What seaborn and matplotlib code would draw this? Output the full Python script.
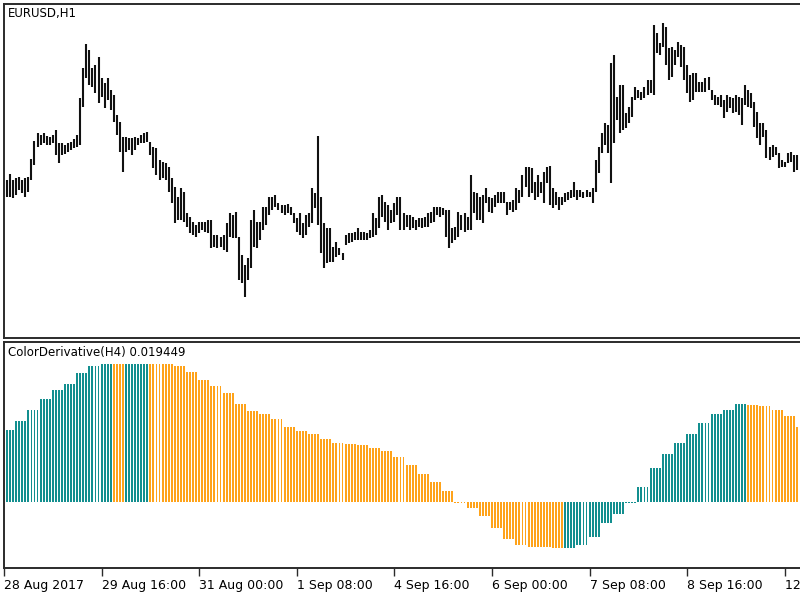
import numpy as np
import pandas as pd
import matplotlib
matplotlib.use('Agg')
import matplotlib.pyplot as plt
import seaborn as sns

# EURUSD H1 bars (high / low)
high = [1.1937, 1.1943, 1.1937, 1.1939, 1.1940, 1.1937, 1.1939, 1.1940, 1.1958, 1.1976,
        1.1984, 1.1982, 1.1984, 1.1981, 1.1980, 1.1982, 1.1987, 1.1974, 1.1974, 1.1972,
        1.1974, 1.1975, 1.1978, 1.1982, 1.2019, 1.2049, 1.2073, 1.2067, 1.2049, 1.2052,
        1.2060, 1.2039, 1.2034, 1.2039, 1.2027, 1.2022, 1.2002, 1.1995, 1.1980, 1.1980,
        1.1979, 1.1979, 1.1980, 1.1979, 1.1982, 1.1984, 1.1985, 1.1975, 1.1970, 1.1969,
        1.1957, 1.1955, 1.1954, 1.1950, 1.1939, 1.1930, 1.1920, 1.1929, 1.1925, 1.1904,
        1.1900, 1.1895, 1.1892, 1.1895, 1.1895, 1.1895, 1.1897, 1.1897, 1.1882, 1.1882,
        1.1880, 1.1882, 1.1894, 1.1904, 1.1902, 1.1905, 1.1880, 1.1862, 1.1852, 1.1859,
        1.1897, 1.1907, 1.1895, 1.1895, 1.1910, 1.1910, 1.1920, 1.1920, 1.1922, 1.1914,
        1.1912, 1.1912, 1.1913, 1.1910, 1.1904, 1.1899, 1.1904, 1.1894, 1.1902, 1.1904,
        1.1929, 1.1924, 1.1981, 1.1920, 1.1894, 1.1889, 1.1889, 1.1870, 1.1875, 1.1869,
        1.1864, 1.1882, 1.1884, 1.1884, 1.1885, 1.1889, 1.1885, 1.1885, 1.1884, 1.1887,
        1.1904, 1.1899, 1.1920, 1.1922, 1.1915, 1.1912, 1.1907, 1.1914, 1.1920, 1.1920,
        1.1904, 1.1902, 1.1902, 1.1900, 1.1897, 1.1899, 1.1899, 1.1900, 1.1904, 1.1905,
        1.1910, 1.1910, 1.1910, 1.1909, 1.1907, 1.1907, 1.1889, 1.1890, 1.1905, 1.1902,
        1.1904, 1.1900, 1.1942, 1.1925, 1.1924, 1.1920, 1.1922, 1.1929, 1.1920, 1.1919,
        1.1922, 1.1925, 1.1925, 1.1925, 1.1915, 1.1915, 1.1917, 1.1929, 1.1927, 1.1942,
        1.1950, 1.1950, 1.1949, 1.1935, 1.1942, 1.1935, 1.1945, 1.1950, 1.1951, 1.1929,
        1.1925, 1.1920, 1.1920, 1.1924, 1.1925, 1.1927, 1.1935, 1.1927, 1.1927, 1.1925,
        1.1927, 1.1925, 1.1929, 1.1957, 1.1970, 1.1984, 1.1994, 1.1992, 1.2054, 1.2062,
        1.2020, 1.2032, 1.2032, 1.2004, 1.2010, 1.2020, 1.2030, 1.2027, 1.2025, 1.2030,
        1.2037, 1.2037, 1.2092, 1.2084, 1.2074, 1.2094, 1.2090, 1.2069, 1.2070, 1.2067,
        1.2075, 1.2072, 1.2070, 1.2052, 1.2042, 1.2044, 1.2044, 1.2035, 1.2035, 1.2039,
        1.2040, 1.2027, 1.2022, 1.2020, 1.2022, 1.2017, 1.2022, 1.2020, 1.2019, 1.2022,
        1.2020, 1.2019, 1.2032, 1.2027, 1.2024, 1.2015, 1.2005, 1.1994, 1.1994, 1.1987,
        1.1970, 1.1972, 1.1970, 1.1964, 1.1957, 1.1955, 1.1964, 1.1965, 1.1962, 1.1962]

low = [1.1920, 1.1920, 1.1919, 1.1922, 1.1927, 1.1924, 1.1920, 1.1925, 1.1937, 1.1952,
       1.1970, 1.1972, 1.1974, 1.1972, 1.1972, 1.1974, 1.1962, 1.1954, 1.1962, 1.1963,
       1.1965, 1.1967, 1.1969, 1.1970, 1.1972, 1.2010, 1.2039, 1.2032, 1.2030, 1.2024,
       1.2014, 1.2020, 1.2009, 1.2017, 1.2007, 1.1995, 1.1982, 1.1965, 1.1945, 1.1965,
       1.1967, 1.1962, 1.1967, 1.1972, 1.1974, 1.1974, 1.1975, 1.1962, 1.1949, 1.1942,
       1.1937, 1.1939, 1.1937, 1.1925, 1.1914, 1.1894, 1.1897, 1.1897, 1.1895, 1.1890,
       1.1884, 1.1882, 1.1880, 1.1884, 1.1887, 1.1885, 1.1884, 1.1869, 1.1870, 1.1869,
       1.1870, 1.1867, 1.1865, 1.1880, 1.1879, 1.1879, 1.1837, 1.1834, 1.1820, 1.1837,
       1.1849, 1.1870, 1.1869, 1.1877, 1.1887, 1.1892, 1.1902, 1.1907, 1.1910, 1.1907,
       1.1904, 1.1902, 1.1904, 1.1902, 1.1894, 1.1885, 1.1882, 1.1879, 1.1882, 1.1890,
       1.1894, 1.1909, 1.1892, 1.1864, 1.1849, 1.1854, 1.1855, 1.1855, 1.1860, 1.1862,
       1.1857, 1.1872, 1.1874, 1.1875, 1.1877, 1.1877, 1.1877, 1.1877, 1.1877, 1.1879,
       1.1880, 1.1882, 1.1889, 1.1900, 1.1895, 1.1887, 1.1894, 1.1895, 1.1902, 1.1887,
       1.1887, 1.1890, 1.1887, 1.1889, 1.1887, 1.1890, 1.1889, 1.1890, 1.1890, 1.1894,
       1.1895, 1.1902, 1.1900, 1.1902, 1.1880, 1.1869, 1.1874, 1.1877, 1.1880, 1.1887,
       1.1885, 1.1887, 1.1887, 1.1904, 1.1897, 1.1897, 1.1894, 1.1914, 1.1905, 1.1904,
       1.1910, 1.1914, 1.1914, 1.1914, 1.1902, 1.1907, 1.1905, 1.1907, 1.1914, 1.1920,
       1.1930, 1.1920, 1.1924, 1.1917, 1.1920, 1.1924, 1.1914, 1.1934, 1.1912, 1.1909,
       1.1912, 1.1907, 1.1912, 1.1915, 1.1917, 1.1919, 1.1920, 1.1917, 1.1920, 1.1919,
       1.1920, 1.1920, 1.1914, 1.1925, 1.1944, 1.1964, 1.1972, 1.1964, 1.1934, 1.1974,
       1.1997, 1.1984, 1.1987, 1.1989, 1.1994, 1.2000, 1.2017, 1.2019, 1.2017, 1.2019,
       1.2022, 1.2024, 1.2022, 1.2064, 1.2062, 1.2070, 1.2052, 1.2037, 1.2040, 1.2052,
       1.2060, 1.2050, 1.2037, 1.2024, 1.2015, 1.2017, 1.2025, 1.2025, 1.2025, 1.2025,
       1.2027, 1.2017, 1.2012, 1.2012, 1.2010, 1.1999, 1.2005, 1.2009, 1.2004, 1.2005,
       1.2002, 1.1992, 1.2012, 1.2010, 1.2009, 1.1990, 1.1979, 1.1972, 1.1980, 1.1959,
       1.1957, 1.1960, 1.1962, 1.1949, 1.1950, 1.1950, 1.1954, 1.1955, 1.1945, 1.1947]

# ColorDerivative on H4: one value per H4 bar, 0 = rising (teal), 1 = falling (orange)
deriv = [0.01864, 0.02106, 0.02384, 0.02670, 0.02904, 0.03060, 0.03346, 0.03528, 0.03580, 0.03572,
         0.03578, 0.03585, 0.03582, 0.03575, 0.03528, 0.03372, 0.03164, 0.03008, 0.02826, 0.02540,
         0.02358, 0.02280, 0.02142, 0.01950, 0.01838, 0.01752, 0.01630, 0.01518, 0.01512, 0.01474,
         0.01388, 0.01318, 0.01154, 0.00954, 0.00720, 0.00520, 0.00286, -0.00030, -0.00172, -0.00372,
         -0.00692, -0.00970, -0.01126, -0.01170, -0.01180, -0.01212, -0.01205, -0.01126, -0.00926, -0.00562,
         -0.00320, -0.00042, 0.00374, 0.00884, 0.01240, 0.01518, 0.01752, 0.02038, 0.02280, 0.02384,
         0.02540, 0.02506, 0.02500, 0.02384, 0.02228, 0.019449]
deriv_color = [0, 0, 0, 0, 0, 0, 0, 0, 0, 1,
               0, 0, 1, 1, 1, 1, 1, 1, 1, 1,
               1, 1, 1, 1, 1, 1, 1, 1, 1, 1,
               1, 1, 1, 1, 1, 1, 1, 1, 1, 1,
               1, 1, 1, 1, 1, 1, 0, 0, 0, 0,
               0, 0, 0, 0, 0, 0, 0, 0, 0, 0,
               0, 1, 1, 1, 1, 1]

tick_pos = [-1, 31, 63, 95, 127, 159, 191, 223, 255]
tick_labels = ['28 Aug 2017', '29 Aug 16:00', '31 Aug 00:00', '1 Sep 08:00', '4 Sep 16:00',
               '6 Sep 00:00', '7 Sep 08:00', '8 Sep 16:00', '12 Sep 00:00']

sns.set_style('white')
plt.rcParams['font.family'] = ['DejaVu Sans']
plt.rcParams['text.color'] = 'black'
plt.rcParams['xtick.color'] = 'black'

n = len(high)
idx = np.arange(n)
blk = (idx + 1) // 4          # H1 bar -> H4 bar it belongs to
df = pd.DataFrame({'bar': idx,
                   'val': np.array(deriv)[blk],
                   'dir': np.where(np.array(deriv_color)[blk] == 0, 'up', 'down')})

fig = plt.figure(figsize=(8, 6), dpi=100)
ax1 = fig.add_axes([4/800, 1-338/600, 1-4/800, 334/600])
ax2 = fig.add_axes([4/800, 1-568/600, 1-4/800, 226/600], sharex=ax1)

ax1.vlines(idx, low, high, colors='#111111', lw=1.5)
ax1.set_ylim(1.1779, 1.2113)

sns.barplot(data=df, x='bar', y='val', hue='dir', palette={'up': '#138f8f', 'down': '#ffa31a'},
            native_scale=True, width=0.62, dodge=False, errorbar=None, saturation=1,
            legend=False, linewidth=0, ax=ax2)
ax2.set_ylim(-0.0172, 0.0415)
ax2.set_xlim(-1, 260)
ax2.set_xlabel('')
ax2.set_ylabel('')

for ax in (ax1, ax2):
    ax.set_yticks([])
    ax.spines['right'].set_visible(False)
    for s in ('left', 'top', 'bottom'):
        ax.spines[s].set_color('#2b2b2b')
        ax.spines[s].set_linewidth(1.4)

ax1.tick_params(axis='x', bottom=False, labelbottom=False)
ax2.set_xticks(tick_pos, tick_labels)
ax2.tick_params(axis='x', bottom=True, length=6, width=1, color='#2b2b2b', direction='out',
                pad=2, labelsize=9, labelcolor='black')
for lab in ax2.get_xticklabels():
    lab.set_ha('left')

fig.text(8/800, 1-7/600, 'EURUSD,H1', fontsize=8.5, va='top', ha='left', color='black')
fig.text(8/800, 1-346/600, 'ColorDerivative(H4) 0.019449', fontsize=8.5, va='top', ha='left',
         color='black')

fig.savefig('out.png', dpi=100)
